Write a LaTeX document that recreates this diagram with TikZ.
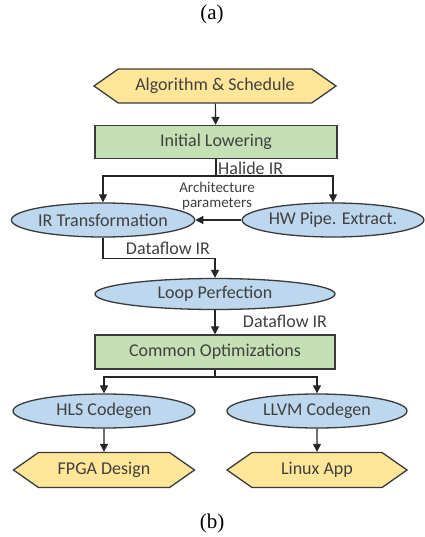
\documentclass[tikz,border=0pt]{standalone}
\usepackage{fontspec}
\setmainfont{Carlito}
\newfontfamily\capfont{Liberation Serif}
\usepackage{xcolor}
\usepackage{tikz}
\usetikzlibrary{arrows.meta,shapes.geometric,shapes.symbols}
\definecolor{bg}{HTML}{FFFFFF}
\definecolor{ink}{HTML}{404040}
\definecolor{edge}{HTML}{3A3A3A}
\definecolor{gold}{HTML}{FFE699}
\definecolor{leaf}{HTML}{C5E0B4}
\definecolor{sky}{HTML}{BDD7EE}
\tikzset{
  base/.style={draw=edge, line width=1.3pt, text=ink, font=\fontsize{18}{20}\selectfont, inner sep=0pt},
  hexbox/.style={base, fill=gold, signal, signal to=west and east, signal pointer angle=70, minimum height=34pt},
  stage/.style={base, fill=leaf, rectangle, minimum height=33pt},
  pass/.style={base, fill=sky, ellipse, minimum height=34pt},
  link/.style={draw=black!85, line width=1.2pt},
  arrow/.style={link, -{Triangle[length=8pt,width=8pt]}},
  lab/.style={text=ink, font=\fontsize{18}{20}\selectfont, inner sep=1pt},
  labs/.style={text=ink, font=\fontsize{15}{15}\selectfont, inner sep=0pt, align=center},
  captext/.style={text=black, font=\capfont\fontsize{21}{24}\selectfont},
}
\begin{document}
\begin{tikzpicture}[x=1pt,y=-1pt]
  \useasboundingbox[fill=bg] (0,0) rectangle (424,537);
  \node[captext] (capa) at (212,14) {(a)};
  \node[captext] (capb) at (212,523) {(b)};

  \node[hexbox, minimum width=242pt] (alg) at (215,86) {Algorithm \& Schedule};
  \node[stage, minimum width=242pt] (lower) at (216,142) {Initial Lowering};
  \node[pass, minimum width=176pt] (irt) at (103,220) {IR Transformation};
  \node[pass, minimum width=174pt] (hwp) at (333,220) {HW Pipe. Extract.};
  \node[pass, minimum width=240pt, minimum height=31pt] (loop) at (215,294) {Loop Perfection};
  \node[stage, minimum width=240pt, minimum height=34pt] (opt) at (215,352) {Common Optimizations};
  \node[pass, minimum width=182pt] (hls) at (104,411) {HLS Codegen};
  \node[pass, minimum width=180pt] (llvm) at (317,411) {LLVM Codegen};
  \node[hexbox, minimum width=181pt, minimum height=35pt] (fpga) at (104,470) {FPGA Design};
  \node[hexbox, minimum width=180pt, minimum height=35pt] (linux) at (317,470) {Linux App};

  \coordinate (hsplit) at (216,176);
  \coordinate (osplit) at (215,377);

  \draw[arrow] (alg) -- (lower);
  \draw[link] (lower.south) -- (hsplit);
  \draw[arrow] (hsplit) -| (irt.north);
  \draw[arrow] (hsplit) -| (hwp.north);
  \node[lab, anchor=south west] (halide) at (217,176) {Halide IR};
  \draw[arrow] (hwp.west) -- (irt.east);
  \node[labs] (arch) at (217,196) {Architecture\\parameters};
  \draw[arrow] (irt.south) -- ++(0,21) -| (loop.north);
  \node[lab] (dfa) at (168,248) {Dataflow IR};
  \draw[arrow] (loop) -- (opt);
  \node[lab] (dfb) at (285,321) {Dataflow IR};
  \draw[link] (opt.south) -- (osplit);
  \draw[arrow] (osplit) -| (hls.north);
  \draw[arrow] (osplit) -| (llvm.north);
  \draw[arrow] (hls) -- (fpga);
  \draw[arrow] (llvm) -- (linux);
\end{tikzpicture}
\end{document}
